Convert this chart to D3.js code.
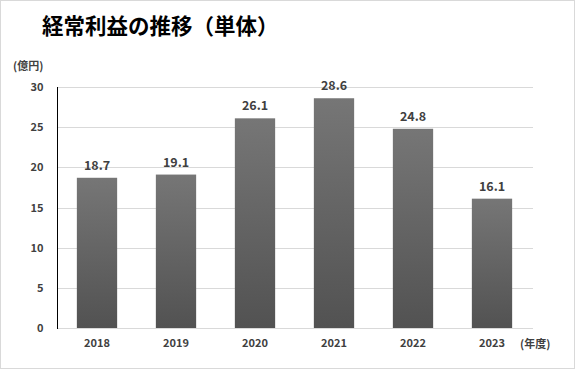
<!DOCTYPE html>
<html><head><meta charset="utf-8">
<script src="https://cdn.jsdelivr.net/npm/d3@7"></script>
<style>body{margin:0;background:#fff;}svg{display:block;}</style>
</head><body><svg id="c" width="575" height="369"></svg>
<script>
const years = ["2018","2019","2020","2021","2022","2023"];
const values = [18.7, 19.1, 26.1, 28.6, 24.8, 16.1];
const yTicks = [0,5,10,15,20,25,30];
const title = "経常利益の推移（単体）";
const yUnit = "(億円)";
const xUnit = "(年度)";

const svg = d3.select("#c");
const font = "'Noto Sans CJK JP','Noto Sans',sans-serif";
svg.append("rect").attr("x",0.5).attr("y",0.5).attr("width",574).attr("height",368)
  .attr("fill","#fff").attr("stroke","#d9d9d9");

const defs = svg.append("defs");
const g = defs.append("linearGradient").attr("id","bg").attr("x1",0).attr("y1",0).attr("x2",0).attr("y2",1);
g.append("stop").attr("offset","0%").attr("stop-color","#767676");
g.append("stop").attr("offset","100%").attr("stop-color","#525252");

const x = d3.scaleBand().domain(years).range([57.5,531.5]).paddingInner(0.49).paddingOuter(0.245);
const y = d3.scaleLinear().domain([0,30]).range([328,87]);

svg.append("text").attr("x",42).attr("y",34).attr("font-family",font).attr("font-weight","bold")
  .attr("font-size",21.5).attr("fill","#000").text(title);

// grid
svg.append("g").selectAll("line").data(yTicks.filter(d=>d>0)).join("line")
  .attr("x1",57).attr("x2",533).attr("y1",d=>Math.round(y(d))+0.5).attr("y2",d=>Math.round(y(d))+0.5)
  .attr("stroke","#d9d9d9").attr("stroke-width",1);
svg.append("line").attr("x1",57).attr("x2",533).attr("y1",328.5).attr("y2",328.5)
  .attr("stroke","#d9d9d9");

// y axis
const ya = svg.append("g").attr("transform","translate(57.5,0)")
  .call(d3.axisLeft(y).tickValues(yTicks).tickSize(0).tickPadding(14));
ya.select(".domain").attr("stroke","#000").attr("d","M0,87V329");
ya.selectAll("text").attr("font-family",font).attr("font-size",11).attr("font-weight","bold").attr("fill","#404040");

// bars
svg.append("g").selectAll("rect").data(values).join("rect")
  .attr("x",(d,i)=>x(years[i])).attr("width",x.bandwidth())
  .attr("y",d=>y(d)).attr("height",d=>y(0)-y(d)).attr("fill","url(#bg)");

svg.append("g").selectAll("text").data(values).join("text")
  .attr("x",(d,i)=>x(years[i])+x.bandwidth()/2).attr("y",d=>y(d)-8)
  .attr("text-anchor","middle").attr("font-family",font).attr("font-size",12.5).attr("font-weight","bold")
  .attr("fill","#404040").text(d=>d.toFixed(1));

// x axis
const xa = svg.append("g").attr("transform","translate(0,328)")
  .call(d3.axisBottom(x).tickSize(0).tickPadding(11));
xa.select(".domain").remove();
xa.selectAll("text").attr("font-family",font).attr("font-size",11).attr("font-weight","bold").attr("fill","#404040");

svg.append("text").attr("x",13).attr("y",70).attr("font-family",font).attr("font-size",11).attr("font-weight","bold")
  .attr("fill","#404040").text(yUnit);
svg.append("text").attr("x",520).attr("y",348).attr("font-family",font).attr("font-size",11).attr("font-weight","bold")
  .attr("fill","#404040").text(xUnit);
</script></body></html>
